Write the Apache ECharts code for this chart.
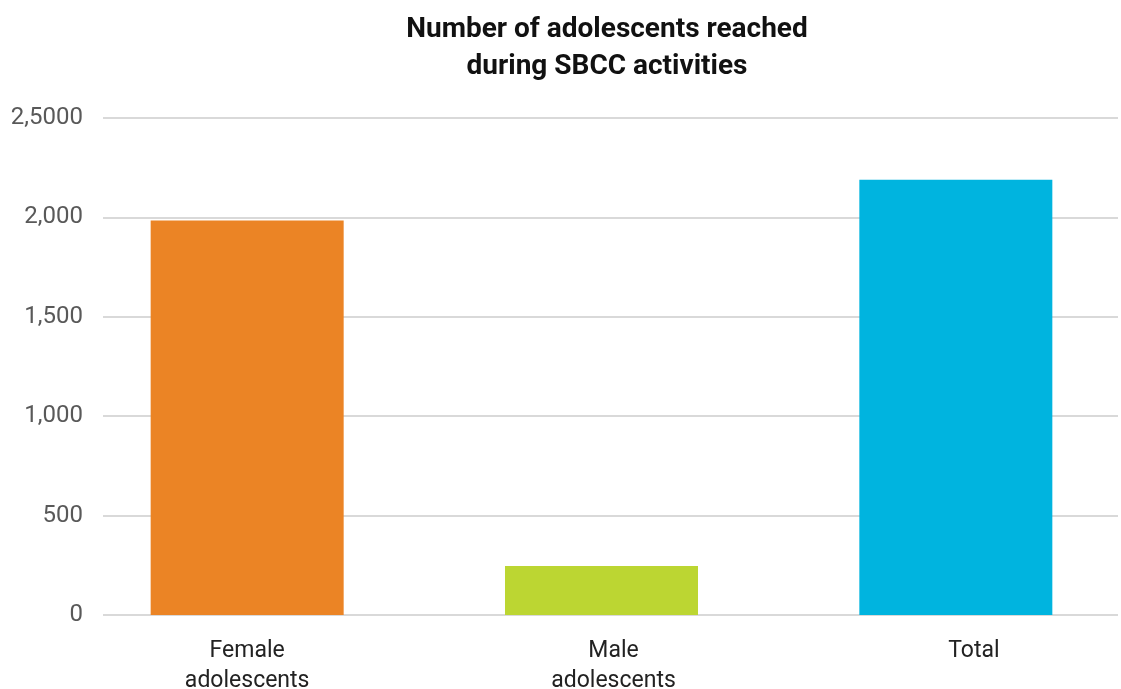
<!DOCTYPE html>
<html>
<head>
<meta charset="utf-8">
<script src="https://cdn.jsdelivr.net/npm/echarts@6/dist/echarts.min.js"></script>
<style>
    html, body { margin: 0; padding: 0; background: #fff; }
    #chart { width: 1121px; height: 689px; }
</style>
</head>
<body>
<div id="chart"></div>
<script>
// values
const categories = ['Female\nadolescents', 'Male\nadolescents', 'Total'];
const reached = [1985, 246, 2190];
const barColors = ['#EB8425', '#BCD632', '#00B4DF'];
// the source labels its top tick "2,5000"
const yTickLabels = ['0', '500', '1,000', '1,500', '2,000', '2,5000'];
// labels in the source sit a little right of their bars
const labelShift = [0, 24, 36];

const chart = echarts.init(document.getElementById('chart'));

const option = {
    animation: false,
    title: {
        text: 'Number of adolescents reached\nduring SBCC activities',
        left: 602,
        top: 6,
        textAlign: 'center',
        textStyle: {
            fontFamily: 'Roboto',
            fontSize: 28,
            fontWeight: 'bold',
            color: '#111',
            lineHeight: 37,
        },
    },
    grid: [
        // grid for the gridlines and y labels
        { left: 103, right: 3, top: 118, bottom: 74, outerBoundsMode: 'none' },
        // grid for the bars (categories are wider than the gridlines)
        { left: 70, width: 1063, top: 118, bottom: 74, outerBoundsMode: 'none' },
    ],
    xAxis: [
        {
            type: 'category',
            gridIndex: 0,
            data: categories,
            show: false,
        },
        {
            type: 'category',
            gridIndex: 1,
            data: categories.map((c, i) => ({
                value: c,
                textStyle: { padding: [0, 0, 0, labelShift[i]] },
            })),
            axisLine: { show: false },
            axisTick: { show: false },
            axisLabel: {
                interval: 0,
                margin: 21,
                fontFamily: 'Roboto',
                fontSize: 23,
                lineHeight: 30,
                color: '#222',
            },
        },
    ],
    yAxis: [
        {
            type: 'value',
            gridIndex: 0,
            min: 0,
            max: 2500,
            interval: 500,
            axisLine: { show: false },
            axisTick: { show: false },
            axisLabel: {
                margin: 20,
                fontFamily: 'Roboto',
                fontSize: 24,
                color: '#595959',
                formatter: (v) => yTickLabels[Math.round(v / 500)],
            },
            splitLine: { lineStyle: { color: '#d9d9d9', width: 2 } },
        },
        {
            type: 'value',
            gridIndex: 1,
            min: 0,
            max: 2500,
            interval: 500,
            show: false,
            splitLine: { show: false },
        },
    ],
    series: [
        {
            type: 'bar',
            xAxisIndex: 1,
            yAxisIndex: 1,
            barWidth: 193,
            data: reached.map((v, i) => ({ value: v, itemStyle: { color: barColors[i] } })),
        },
    ],
};

chart.setOption(option);
</script>
</body>
</html>
